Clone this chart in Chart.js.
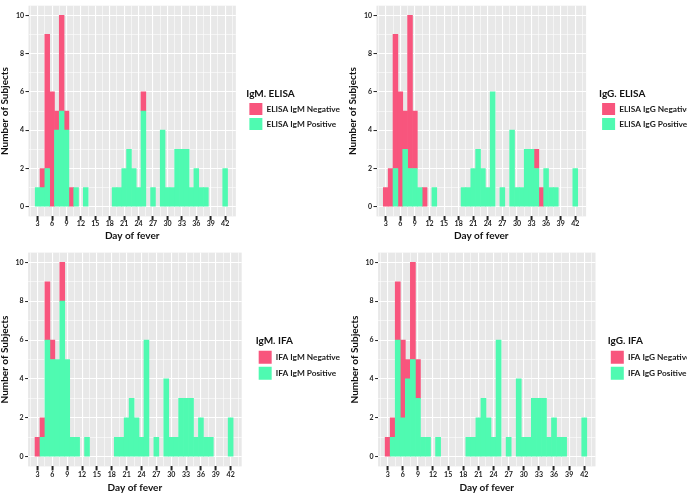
<!DOCTYPE html>
<html>
<head>
<meta charset="utf-8">
<script src="https://cdn.jsdelivr.net/npm/chart.js@4"></script>
<style>
  html, body { margin: 0; padding: 0; background: #ffffff; }
  #wrap { position: relative; width: 687px; height: 495px; overflow: hidden; }
  canvas { position: absolute; }
</style>
</head>
<body>
<div id="wrap">
  <canvas id="c1"></canvas>
  <canvas id="c2"></canvas>
  <canvas id="c3"></canvas>
  <canvas id="c4"></canvas>
</div>
<script>
// ---------------- data ----------------
const days = [3,4,5,6,7,8,9,10,11,12,13,14,15,16,17,18,19,20,21,22,23,24,25,26,27,28,29,30,31,32,33,34,35,36,37,38,39,40,41,42];
const xTickLabels = [3,6,9,12,15,18,21,24,27,30,33,36,39,42];
const yTickLabels = [0,2,4,6,8,10];

const igmElisaNeg = [0,1,7,6,1,5,1,1,0,0,0,0,0,0,0,0,0,0,0,0,0,0,1,0,0,0,0,0,0,0,0,0,0,0,0,0,0,0,0,0];
const igmElisaPos = [1,1,2,0,4,5,4,0,1,0,1,0,0,0,0,0,1,1,2,3,2,1,5,0,1,0,4,1,1,3,3,3,1,2,1,1,0,0,0,2];

const iggElisaNeg = [1,2,7,6,2,8,3,0,1,0,0,0,0,0,0,0,0,0,0,0,0,0,0,0,0,0,0,0,0,0,0,1,1,0,0,0,0,0,0,0];
const iggElisaPos = [0,0,2,0,3,2,2,1,0,0,1,0,0,0,0,0,1,1,2,3,2,1,6,0,1,0,4,1,1,3,3,2,0,2,1,1,0,0,0,2];

const igmIfaNeg = [1,1,3,1,0,2,0,0,0,0,0,0,0,0,0,0,0,0,0,0,0,0,0,0,0,0,0,0,0,0,0,0,0,0,0,0,0,0,0,0];
const igmIfaPos = [0,1,6,5,5,8,5,1,1,0,1,0,0,0,0,0,1,1,2,3,2,1,6,0,1,0,4,1,1,3,3,3,1,2,1,1,0,0,0,2];

const iggIfaNeg = [1,1,3,4,1,5,2,0,0,0,0,0,0,0,0,0,0,0,0,0,0,0,0,0,0,0,0,0,0,0,0,0,0,0,0,0,0,0,0,0];
const iggIfaPos = [0,1,6,2,4,5,3,1,1,0,1,0,0,0,0,0,1,1,2,3,2,1,6,0,1,0,4,1,1,3,3,3,1,2,1,1,0,0,0,2];

const legendTitles = ['IgM. ELISA', 'IgG. ELISA', 'IgM. IFA', 'IgG. IFA'];
const negLabels = ['ELISA IgM Negative', 'ELISA IgG Negative', 'IFA IgM Negative', 'IFA IgG Negative'];
const posLabels = ['ELISA IgM Positive', 'ELISA IgG Positive', 'IFA IgM Positive', 'IFA IgG Positive'];
const xTitle = 'Day of fever';
const yTitle = 'Number of Subjects';

// ---------------- style ----------------
const NEG_COLOR = '#F8557D';
const POS_COLOR = '#4FFAB1';
const PANEL_BG = '#E8E8E8';
const FONT = 'Lato, "Open Sans", sans-serif';
const LEGEND_FONT_SIZE = 8.3;
const LEGEND_BOX_W = 13;
const LEGEND_PAD = 3;
const X_MIN = 1.1, X_MAX = 44.23;
const Y_MIN = -0.5, Y_MAX = 10.5;

// gridline positions (major at labelled ticks, minor halfway between)
const xGrid = [];
for (let i = 0; i < xTickLabels.length; i++) {
  const v = xTickLabels[i];
  const step = (xTickLabels[1] - xTickLabels[0]) / 2;
  if (i === 0 && v - step >= X_MIN) xGrid.push(v - step);
  xGrid.push(v);
  if (v + step <= X_MAX) xGrid.push(v + step);
}
const yGrid = [];
for (let i = 0; i < yTickLabels.length; i++) {
  const v = yTickLabels[i];
  yGrid.push(v);
  if (i < yTickLabels.length - 1) yGrid.push((v + yTickLabels[i + 1]) / 2);
}

const panels = [
  { id: 'c1', left: 0,   top: 0,   w: 350, h: 245, padT: 2.6, padB: 3.3, xAxisH: 25.3, xTickPad: -0.6, yAxisW: 28.5, chartRight: 237.5, gap: 10.5, boxH: 12, titleLH: 1.1,  neg: igmElisaNeg, pos: igmElisaPos },
  { id: 'c2', left: 348, top: 0,   w: 380, h: 245, padT: 2.6, padB: 3.3, xAxisH: 25.3, xTickPad: -0.6, yAxisW: 28.5, chartRight: 238.1, gap: 13,   boxH: 12, titleLH: 1.1,  neg: iggElisaNeg, pos: iggElisaPos },
  { id: 'c3', left: 0,   top: 245, w: 350, h: 250, padT: 7.6, padB: 1.7, xAxisH: 26.9, xTickPad: 1.1,  yAxisW: 28.1, chartRight: 246.3, gap: 14,   boxH: 13, titleLH: 1.17, neg: igmIfaNeg,   pos: igmIfaPos },
  { id: 'c4', left: 350, top: 245, w: 380, h: 250, padT: 7.6, padB: 1.7, xAxisH: 26.9, xTickPad: 1.1,  yAxisW: 28.1, chartRight: 245.5, gap: 12.3, boxH: 13, titleLH: 1.17, neg: iggIfaNeg,   pos: iggIfaPos }
];

const bgPlugin = {
  id: 'panelBg',
  beforeDraw(chart) {
    const a = chart.chartArea, ctx = chart.ctx;
    ctx.save();
    ctx.fillStyle = PANEL_BG;
    ctx.fillRect(a.left, a.top, a.right - a.left, a.bottom - a.top);
    ctx.restore();
  }
};

const isXMajor = v => xTickLabels.includes(v);
const isYMajor = v => yTickLabels.includes(v);
// empty bins get no anti-alias inflation, so they draw nothing
const inflateFor = c => (c.raw && c.raw.y > 0) ? 'auto' : 0;
const measureCtx = document.createElement('canvas').getContext('2d');
measureCtx.font = 'bold ' + LEGEND_FONT_SIZE + 'px ' + FONT;

panels.forEach((p, k) => {
  const cv = document.getElementById(p.id);
  cv.width = p.w; cv.height = p.h;
  cv.style.left = p.left + 'px'; cv.style.top = p.top + 'px';
  cv.style.width = p.w + 'px'; cv.style.height = p.h + 'px';
  // natural legend width, so the plot area ends where the reference's does
  const textW = Math.max(measureCtx.measureText(negLabels[k]).width, measureCtx.measureText(posLabels[k]).width);
  const legendW = LEGEND_PAD + LEGEND_BOX_W + LEGEND_FONT_SIZE / 2 + textW + 10;
  const padR = Math.max(0, p.w - (p.chartRight + p.gap + legendW));

  new Chart(cv, {
    type: 'bar',
    data: {
      datasets: [
        { label: posLabels[k], data: days.map((d, i) => ({ x: d, y: p.pos[i] })), backgroundColor: POS_COLOR, borderWidth: 0, inflateAmount: inflateFor, xAxisID: 'x', yAxisID: 'y' },
        { label: negLabels[k], data: days.map((d, i) => ({ x: d, y: p.neg[i] })), backgroundColor: NEG_COLOR, borderWidth: 0, inflateAmount: inflateFor, xAxisID: 'x', yAxisID: 'y' }
      ]
    },
    options: {
      responsive: false,
      animation: false,
      devicePixelRatio: 1,
      categoryPercentage: 1,
      barPercentage: 1,
      layout: { padding: { left: 0, right: padR, top: p.padT, bottom: p.padB } },
      plugins: {
        tooltip: { enabled: false },
        legend: {
          position: 'right',
          align: 'center',
          fullSize: false,
          reverse: true,
          maxWidth: 400,
          title: { display: true, text: legendTitles[k], position: 'start', color: '#111', padding: 0,
                   font: { family: FONT, size: 10, weight: 'bold', lineHeight: p.titleLH } },
          labels: { boxWidth: LEGEND_BOX_W, boxHeight: p.boxH, padding: LEGEND_PAD, color: '#1a1a1a',
                    font: { family: FONT, size: LEGEND_FONT_SIZE, weight: 'bold' } }
        }
      },
      scales: {
        x: {
          type: 'linear', stacked: true, min: X_MIN, max: X_MAX, offset: false,
          afterBuildTicks: s => { s.ticks = xGrid.map(v => ({ value: v })); },
          afterFit: s => { s.height = p.xAxisH; },
          ticks: { autoSkip: false, maxRotation: 0, minRotation: 0, padding: p.xTickPad, color: '#222',
                   font: { family: FONT, size: 7, weight: 'bold', lineHeight: 1 },
                   callback: v => isXMajor(v) ? String(v) : '' },
          grid: { offset: false, color: '#ffffff', drawTicks: true, tickLength: 4,
                  lineWidth: c => (c.tick && isXMajor(c.tick.value)) ? 1.1 : 0.55,
                  tickWidth: c => (c.tick && isXMajor(c.tick.value)) ? 2 : 1,
                  tickColor: c => (c.tick && isXMajor(c.tick.value)) ? '#222' : 'rgba(0,0,0,0)' },
          border: { display: false },
          title: { display: true, text: xTitle, color: '#111', padding: 0,
                   font: { family: FONT, size: 10, weight: 'bold', lineHeight: 1.2 } }
        },
        y: {
          type: 'linear', position: 'left', stacked: true, min: Y_MIN, max: Y_MAX,
          afterBuildTicks: s => { s.ticks = yGrid.map(v => ({ value: v })); },
          afterFit: s => { s.width = p.yAxisW; },
          ticks: { autoSkip: false, padding: 1.5, color: '#222',
                   font: { family: FONT, size: 7, weight: 'bold' },
                   callback: v => isYMajor(v) ? String(v) : '' },
          grid: { color: '#ffffff', drawTicks: true, tickLength: 3,
                  lineWidth: c => (c.tick && isYMajor(c.tick.value)) ? 1.1 : 0.55,
                  tickWidth: 1,
                  tickColor: c => (c.tick && isYMajor(c.tick.value)) ? '#222' : 'rgba(0,0,0,0)' },
          border: { display: false },
          title: { display: true, text: yTitle, color: '#111', padding: 0,
                   font: { family: FONT, size: 10, weight: 'bold', lineHeight: 1.0 } }
        },
        gap: {
          type: 'linear', position: 'right', display: true,
          grid: { display: false, drawTicks: false },
          ticks: { display: false },
          border: { display: false },
          afterFit: s => { s.width = p.gap; }
        }
      }
    },
    plugins: [bgPlugin]
  });
});
</script>
</body>
</html>
